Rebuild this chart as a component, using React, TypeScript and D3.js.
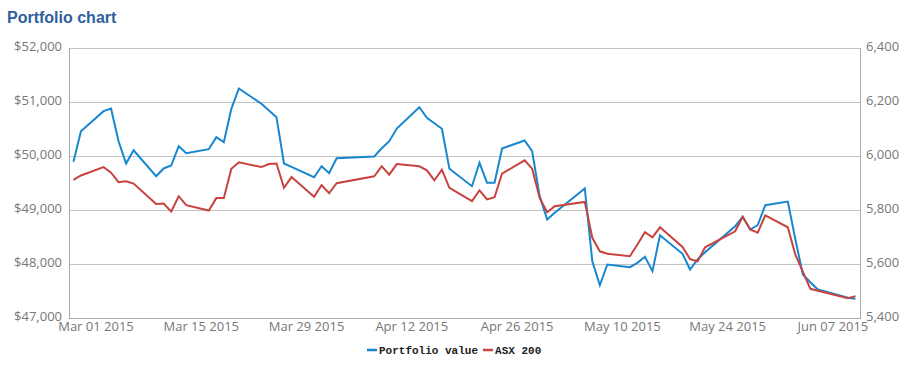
import React from 'react';
import * as d3 from 'd3';

// trading days shown on the chart
const dates = [
    '2015-02-26', '2015-02-27', '2015-03-02', '2015-03-03', '2015-03-04', '2015-03-05', '2015-03-06',
    '2015-03-09', '2015-03-10', '2015-03-11', '2015-03-12', '2015-03-13', '2015-03-16', '2015-03-17',
    '2015-03-18', '2015-03-19', '2015-03-20', '2015-03-23', '2015-03-24', '2015-03-25', '2015-03-26',
    '2015-03-27', '2015-03-30', '2015-03-31', '2015-04-01', '2015-04-02', '2015-04-07', '2015-04-08',
    '2015-04-09', '2015-04-10', '2015-04-13', '2015-04-14', '2015-04-15', '2015-04-16', '2015-04-17',
    '2015-04-20', '2015-04-21', '2015-04-22', '2015-04-23', '2015-04-24', '2015-04-27', '2015-04-28',
    '2015-04-29', '2015-04-30', '2015-05-01', '2015-05-05', '2015-05-06', '2015-05-07', '2015-05-08',
    '2015-05-11', '2015-05-12', '2015-05-13', '2015-05-14', '2015-05-15', '2015-05-18', '2015-05-19',
    '2015-05-20', '2015-05-21', '2015-05-25', '2015-05-26', '2015-05-27', '2015-05-28', '2015-05-29',
    '2015-06-01', '2015-06-02', '2015-06-03', '2015-06-04', '2015-06-05', '2015-06-09', '2015-06-10',
];

const portfolioValues = [
    49893, 50459, 50830, 50880, 50274, 49861, 50107,
    49626, 49769, 49824, 50181, 50052, 50126, 50348,
    50256, 50874, 51250, 50967, 50843, 50719, 49861,
    49800, 49607, 49811, 49681, 49959, 49991, 50143,
    50274, 50509, 50904, 50707, 50607, 50504, 49763,
    49441, 49874, 49504, 49504, 50139, 50287, 50089,
    49256, 48824, 48948, 49398, 48052, 47607, 47991,
    47941, 48022, 48133, 47867, 48533, 48189, 47898,
    48083, 48219, 48700, 48874, 48639, 48719, 49089,
    49155, 48459, 47806, 47663, 47528, 47374, 47356,
];

const asxValues = [
    5912, 5928, 5959, 5938, 5903, 5906, 5898,
    5822, 5824, 5794, 5851, 5818, 5798, 5844,
    5844, 5953, 5977, 5959, 5970, 5972, 5882,
    5922, 5849, 5892, 5862, 5899, 5925, 5962,
    5931, 5970, 5962, 5947, 5910, 5949, 5882,
    5833, 5873, 5839, 5847, 5935, 5984, 5953,
    5845, 5792, 5814, 5830, 5697, 5647, 5638,
    5629, 5672, 5718, 5699, 5736, 5663, 5618,
    5610, 5662, 5721, 5775, 5728, 5716, 5780,
    5736, 5635, 5572, 5508, 5501, 5473, 5481,
];

const leftTicks = [47000, 48000, 49000, 50000, 51000, 52000];
const rightTicks = [5400, 5600, 5800, 6000, 6200, 6400];
const dateTicks = ['2015-03-01', '2015-03-15', '2015-03-29', '2015-04-12', '2015-04-26', '2015-05-10', '2015-05-24', '2015-06-07'];

const seriesNames = ['Portfolio value', 'ASX 200'];
const seriesColours = ['#1787cf', '#c8433f'];

const parseDate = d3.utcParse('%Y-%m-%d');
const DAY = 24 * 3600 * 1000;


class PortfolioChart extends React.Component {
    node: SVGSVGElement | null = null
    chart_width = 915
    chart_height = 374

    componentDidMount() {
        this.createChart(this.node)
    }

    createChart = (node) => {
        let margin = {top: 48, right: 55, bottom: 56, left: 69}
        let fig_width = this.chart_width - margin.left - margin.right
        let fig_height = this.chart_height - margin.top - margin.bottom

        let svg = d3.select(node)
        svg.selectAll('*').remove()

        svg.append('rect')
            .attr('width', this.chart_width)
            .attr('height', this.chart_height)
            .attr('fill', '#fff')

        svg.append('text')
            .attr('x', 7)
            .attr('y', 23)
            .attr('font-family', '"Liberation Sans", Arial, sans-serif')
            .attr('font-weight', 'bold')
            .attr('font-size', 16)
            .attr('fill', '#2f5e9c')
            .text('Portfolio chart')

        let fig = svg.append('g')
            .attr('transform', `translate(${margin.left},${margin.top})`)

        // x domain padded a little either side of the data
        let mar01 = parseDate('2015-03-01').getTime()
        let xAxis = d3.scaleUtc()
            .domain([new Date(mar01 - 3.59 * DAY), new Date(mar01 + 101.6 * DAY)])
            .range([0, fig_width])

        let yLeft = d3.scaleLinear()
            .domain([47000, 52000])
            .range([fig_height, 0])

        let yRight = d3.scaleLinear()
            .domain([5400, 6400])
            .range([fig_height, 0])

        let tickFont = '"Open Sans", sans-serif'

        // gridlines
        fig.selectAll('.grid')
            .data(leftTicks)
            .enter().append('line')
            .attr('class', 'grid')
            .attr('x1', 0)
            .attr('x2', fig_width)
            .attr('y1', (d) => Math.round(yLeft(d)) + 0.5)
            .attr('y2', (d) => Math.round(yLeft(d)) + 0.5)
            .attr('stroke', (d, i) => i === 0 ? '#aaa' : '#c4c4c4')
            .attr('stroke-width', 1)

        // vertical axis lines
        fig.selectAll('.vaxis')
            .data([0, fig_width])
            .enter().append('line')
            .attr('class', 'vaxis')
            .attr('x1', (d) => d + 0.5)
            .attr('x2', (d) => d + 0.5)
            .attr('y1', 0)
            .attr('y2', fig_height + 1)
            .attr('stroke', '#aaa')
            .attr('stroke-width', 1)

        let fmtDollar = d3.format('$,')
        let fmtNum = d3.format(',')

        fig.selectAll('.ltick')
            .data(leftTicks)
            .enter().append('text')
            .attr('class', 'ltick')
            .attr('x', -7)
            .attr('y', (d) => yLeft(d) + 3)
            .attr('text-anchor', 'end')
            .attr('font-family', tickFont)
            .attr('font-size', 13)
            .attr('fill', '#777')
            .text((d) => fmtDollar(d))

        fig.selectAll('.rtick')
            .data(rightTicks)
            .enter().append('text')
            .attr('class', 'rtick')
            .attr('x', fig_width + 6)
            .attr('y', (d) => yRight(d) + 3)
            .attr('font-family', tickFont)
            .attr('font-size', 13)
            .attr('fill', '#777')
            .text((d) => fmtNum(d))

        let fmtDate = d3.utcFormat('%b %d %Y')
        fig.selectAll('.xtick')
            .data(dateTicks.map(parseDate))
            .enter().append('text')
            .attr('class', 'xtick')
            .attr('x', (d) => xAxis(d))
            .attr('y', fig_height + 13)
            .attr('text-anchor', 'middle')
            .attr('font-family', tickFont)
            .attr('font-size', 13)
            .attr('fill', '#777')
            .text((d) => fmtDate(d))

        // series lines
        let parsed = dates.map(parseDate)
        let bySeries = [
            {name: seriesNames[0], colour: seriesColours[0], scale: yLeft, values: portfolioValues},
            {name: seriesNames[1], colour: seriesColours[1], scale: yRight, values: asxValues},
        ]

        bySeries.forEach((s) => {
            let line = d3.line<number>()
                .x((d, i) => xAxis(parsed[i]))
                .y((d) => s.scale(d))
            fig.append('path')
                .attr('d', line(s.values))
                .attr('fill', 'none')
                .attr('stroke', s.colour)
                .attr('stroke-width', 2)
        })

        // legend
        let legend = svg.append('g')
            .attr('transform', 'translate(367,350)')
        let offset = 0
        bySeries.forEach((s) => {
            legend.append('line')
                .attr('x1', offset)
                .attr('x2', offset + 10)
                .attr('y1', 0)
                .attr('y2', 0)
                .attr('stroke', s.colour)
                .attr('stroke-width', 2.5)
            let t = legend.append('text')
                .attr('x', offset + 12)
                .attr('y', 3.5)
                .attr('font-family', '"Liberation Mono", "Courier New", monospace')
                .attr('font-weight', 'bold')
                .attr('font-size', 11)
                .attr('fill', '#222')
                .text(s.name)
            offset += 12 + (t.node() as SVGTextElement).getComputedTextLength() + 5
        })
    }

    render() {
        return (
            <svg ref={node => { this.node = node }}
                width={this.chart_width} height={this.chart_height}
                style={{position: 'absolute', left: 0, top: 0}}>
            </svg>
        )
    }
}

export default function App() {
    return <PortfolioChart />
}
